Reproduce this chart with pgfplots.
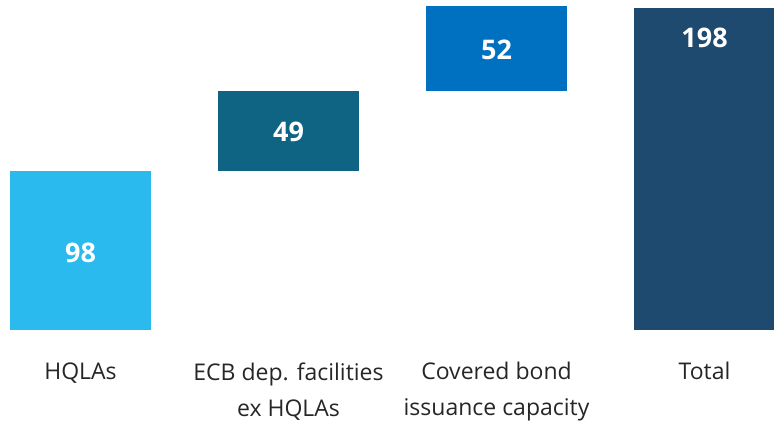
\documentclass[border=0pt]{standalone}
\usepackage{pgfplots}
\pgfplotsset{compat=1.18}
\usepackage{fontspec}
\setmainfont{Open Sans}
\definecolor{cLight}{HTML}{2BBAEE}
\definecolor{cTeal}{HTML}{0F6383}
\definecolor{cBlue}{HTML}{0070C0}
\definecolor{cNavy}{HTML}{1D4A6E}
\definecolor{cText}{HTML}{262626}
\begin{document}
\begin{tikzpicture}
\path[use as bounding box] (0,-91bp) rectangle (774bp,330bp);
\begin{axis}[
  at={(0,0)}, anchor=south west,
  scale only axis, width=774bp, height=330bp,
  xmin=-0.387, xmax=3.334, ymin=0, ymax=203,
  hide y axis,
  axis x line*=bottom,
  x axis line style={draw=none},
  major tick length=0pt,
  xtick={0,1,2,3},
  xticklabels={HQLAs, {ECB dep. facilities\\ex HQLAs}, {Covered bond\\issuance capacity}, Total},
  xticklabel style={align=center, font=\fontsize{23bp}{36bp}\selectfont, text=cText, anchor=north, yshift=-29bp},
  clip=false,
]
\addplot[ybar stacked, bar width=0.678, draw=none, fill=white, fill opacity=0] coordinates {(0,0) (1,98) (2,147) (3,0)};
\addplot[ybar stacked, bar width=0.678, draw=none, fill=cLight] coordinates {(0,98) (1,0) (2,0) (3,0)};
\addplot[ybar stacked, bar width=0.678, draw=none, fill=cTeal] coordinates {(0,0) (1,49) (2,0) (3,0)};
\addplot[ybar stacked, bar width=0.678, draw=none, fill=cBlue] coordinates {(0,0) (1,0) (2,52) (3,0)};
\addplot[ybar stacked, bar width=0.678, draw=none, fill=cNavy] coordinates {(0,0) (1,0) (2,0) (3,198)};
\node[text=white, font=\fontsize{27bp}{30bp}\selectfont\bfseries] at (axis cs:0,47.5) {98};
\node[text=white, font=\fontsize{27bp}{30bp}\selectfont\bfseries] at (axis cs:1,122) {49};
\node[text=white, font=\fontsize{27bp}{30bp}\selectfont\bfseries] at (axis cs:2,172.5) {52};
\node[text=white, font=\fontsize{27bp}{30bp}\selectfont\bfseries] at (axis cs:3,179.5) {198};
\end{axis}
\end{tikzpicture}
\end{document}
